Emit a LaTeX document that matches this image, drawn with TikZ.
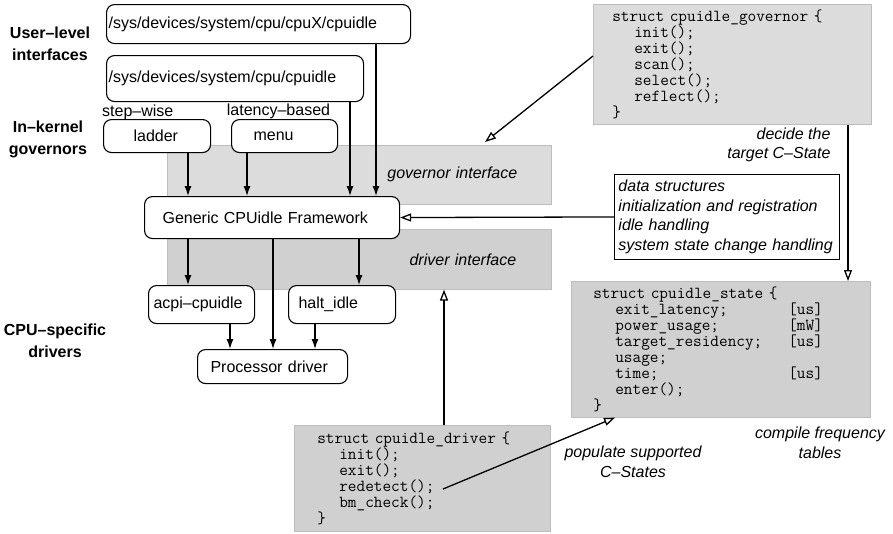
\documentclass[tikz,border=0pt]{standalone}
\usepackage{fontspec}
\setmainfont{Liberation Sans}
\usepackage{xcolor}
\usetikzlibrary{arrows.meta,positioning,calc}

\definecolor{govgray}{HTML}{DCDCDC}
\definecolor{drvgray}{HTML}{D0D0D0}
\definecolor{edgegray}{HTML}{BDBDBD}

\newcommand{\codeind}{\hspace*{22pt}}
\newcommand{\memcol}[1]{\makebox[173pt][l]{#1}}

\begin{document}
\begin{tikzpicture}[x=1pt, y=-1pt,
  every node/.style={font=\fontsize{16}{20}\selectfont},
  rbox/.style={draw, rounded corners=8pt, fill=white, line width=1.1pt, anchor=north west, align=left, inner ysep=0pt},
  band/.style={fill=#1, draw=edgegray, line width=0.6pt, anchor=north west, align=right, inner ysep=0pt, font=\fontsize{16}{20}\selectfont\itshape},
  code/.style={fill=#1, draw=edgegray, line width=0.6pt, anchor=north west, align=left, inner ysep=0pt, font=\fontsize{16.8}{16}\selectfont\ttfamily},
  layer/.style={align=center, font=\fontsize{16}{22}\selectfont\bfseries},
  note/.style={font=\fontsize{16}{19.7}\selectfont\itshape},
  arr/.style={-{Latex[length=10pt, width=7pt]}, line width=1.3pt},
  oarr/.style={-{Triangle[open, length=11pt, width=8pt]}, line width=1.3pt}]
\useasboundingbox (0,0) rectangle (893,533);

% interface bands behind the boxes
\node[band=govgray, text width=316pt, inner xsep=34pt, minimum height=59pt] (govif) at (167,145) {governor interface};
\node[band=drvgray, text width=314pt, inner xsep=35pt, minimum height=60pt] (drvif) at (167,229) {driver interface};

% layer labels
\node[layer] (userlvl) at (50,44) {User–level\\interfaces};
\node[layer] (inkern) at (48,139) {In–kernel\\governors};
\node[layer] (cpuspec) at (55,341) {CPU–specific\\drivers};

% framework boxes
\node[rbox, text width=300pt, inner xsep=2pt, minimum height=39pt] (cpux) at (106,4) {/sys/devices/system/cpu/cpuX/cpuidle};
\node[rbox, text width=253pt, inner xsep=2pt, minimum height=46pt] (sysall) at (106,55) {/sys/devices/system/cpu/cpuidle};
\node[rbox, text width=47pt, inner xsep=30pt, minimum height=33pt] (ladder) at (103,119) {ladder};
\node[rbox, text width=62pt, inner xsep=22pt, minimum height=33pt] (menu) at (231,119) {menu};
\node[anchor=base west, inner sep=0pt] (stepw) at (102,116) {step–wise};
\node[anchor=base, inner sep=0pt] (latb) at (278.5,115) {latency–based};
\node[rbox, text width=219pt, inner xsep=18pt, minimum height=42pt] (fw) at (144,196) {Generic CPUidle Framework};
\node[rbox, text width=96pt, inner xsep=5pt, minimum height=38pt] (acpi) at (148,285) {acpi–cpuidle};
\node[rbox, text width=87pt, inner xsep=10pt, minimum height=38pt] (halt) at (288,285) {halt\_idle};
\node[rbox, text width=124pt, inner xsep=13pt, minimum height=34pt] (proc) at (197,349) {Processor driver};

% structures
\node[code=govgray, text width=240pt, inner xsep=19pt, minimum height=120pt] (govs) at (593,4) {struct cpuidle\_governor \{\\
\codeind init();\\
\codeind exit();\\
\codeind scan();\\
\codeind select();\\
\codeind reflect();\\
\}};
\node[code=drvgray, text width=255pt, inner xsep=22pt, minimum height=136pt] (states) at (571,281) {struct cpuidle\_state \{\\
\codeind\memcol{exit\_latency;}[us]\\
\codeind\memcol{power\_usage;}[mW]\\
\codeind\memcol{target\_residency;}[us]\\
\codeind usage;\\
\codeind\memcol{time;}[us]\\
\codeind enter();\\
\}};
\node[code=drvgray, text width=210pt, inner xsep=23pt, minimum height=106pt] (drvs) at (294,425) {struct cpuidle\_driver \{\\
\codeind init();\\
\codeind exit();\\
\codeind redetect();\\
\codeind bm\_check();\\
\}};
\node[rbox, rounded corners=0pt, line width=0.9pt, note, text width=217pt, inner xsep=4pt, minimum height=85pt] (info) at (614,174) {data structures\\
initialization and registration\\
idle handling\\
system state change handling};

% notes
\node[note, align=right, anchor=east] (decide) at (834,145) {decide the\\target C–State};
\node[note, align=center] (popul) at (633,462) {populate supported\\C–States};
\node[note, align=center] (compile) at (820,443) {compile frequency\\tables};

\coordinate (govtip) at (485,142);
\coordinate (redet) at (443,489);

\draw[arr] (ladder.south -| 188,0) -- (fw.north -| 188,0);
\draw[arr] (menu.south -| 247,0) -- (fw.north -| 247,0);
\draw[arr] (sysall.south -| 350,0) -- (fw.north -| 350,0);
\draw[arr] (cpux.south -| 376,0) -- (fw.north -| 376,0);
\draw[arr] (fw.south -| 188,0) -- (acpi.north -| 188,0);
\draw[arr] (fw.south -| 273,0) -- (proc.north -| 273,0);
\draw[arr] (fw.south -| 359,0) -- (halt.north -| 359,0);
\draw[arr] (acpi.south -| 230,0) -- (proc.north -| 230,0);
\draw[arr] (halt.south -| 315,0) -- (proc.north -| 315,0);
\draw[oarr] (info.west) -- (fw.east);
\draw[oarr] (govs.west |- 0,56) -- (govtip);
\draw[oarr] (govs.south -| 848,0) -- (states.north -| 848,0);
\draw[oarr] (drvs.north -| 444,0) -- (drvif.south -| 444,0);
\draw[oarr] (redet) -- (states.south -| 615,0);
\end{tikzpicture}
\end{document}
